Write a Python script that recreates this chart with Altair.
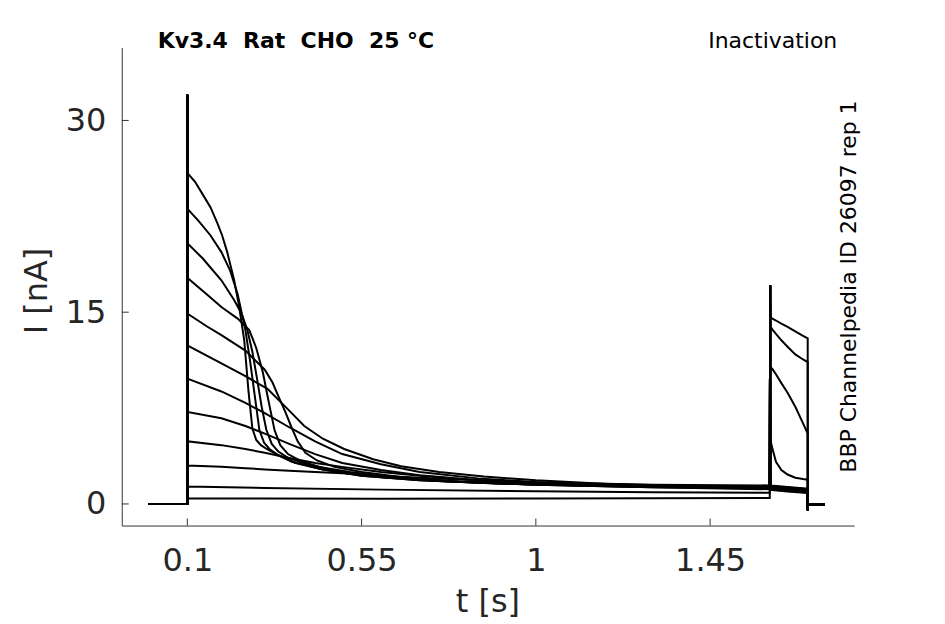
import altair as alt
import pandas as pd

FONT = "DejaVu Sans"

# ---------------- axis ticks ----------------
X_TICKS = [0.1, 0.55, 1.0, 1.45]
Y_TICKS = [0, 15, 30]
X_DOMAIN = [-0.0693, 1.822]
Y_DOMAIN = [-1.69, 35.7]

# ---------------- texts ----------------
TITLE_LEFT = "Kv3.4\u00a0\u00a0Rat\u00a0\u00a0CHO\u00a0\u00a025\u00a0°C"
TITLE_RIGHT = "Inactivation"
SIDE_TEXT = "BBP Channelpedia ID 26097 rep 1"
X_TITLE = "t [s]"
Y_TITLE = "I [nA]"

# ---------------- shared segments ----------------
BASE_T = [0.0, 0.1]
BASE_I = [0.0, 0.0]
SPIKE1_T = 0.1
SPIKE1_I = 32.0
SPIKE2_T = 1.605
SPIKE2_I = 17.1
TAIL_T = [1.702, 1.703, 1.746]
TAIL_I = [-0.5, -0.05, -0.05]

TEST_T_FULL = [1.6055, 1.612, 1.62, 1.634, 1.65, 1.67, 1.69, 1.702]
TEST_T_SHORT = [1.6055, 1.65, 1.702]

# ---------------- prepulse traces ----------------
PRE_T_1 = [0.1, 0.12, 0.144, 0.16, 0.177, 0.19, 0.203, 0.221, 0.234, 0.247, 0.258, 0.268, 0.278, 0.29, 0.305, 0.33, 0.37, 0.45, 0.55, 0.7, 0.9, 1.2, 1.604]
PRE_I_1 = [25.9, 25.2, 24.0, 23.2, 22.0, 21.0, 19.7, 17.5, 15.4, 12.8, 8.8, 5.9, 5.0, 4.6, 4.3, 3.9, 3.3, 2.7, 2.2, 1.85, 1.6, 1.4, 1.3]

PRE_T_2 = [0.1, 0.13, 0.16, 0.188, 0.21, 0.23, 0.25, 0.262, 0.274, 0.286, 0.298, 0.312, 0.335, 0.38, 0.45, 0.55, 0.7, 0.9, 1.2, 1.604]
PRE_I_2 = [23.1, 22.1, 21.0, 19.7, 18.3, 16.4, 13.6, 11.2, 8.5, 5.8, 4.8, 4.3, 3.8, 3.2, 2.7, 2.2, 1.85, 1.6, 1.4, 1.25]

PRE_T_3 = [0.1, 0.14, 0.188, 0.22, 0.24, 0.255, 0.268, 0.28, 0.292, 0.304, 0.318, 0.335, 0.36, 0.41, 0.5, 0.6, 0.75, 0.95, 1.25, 1.604]
PRE_I_3 = [20.4, 19.2, 17.5, 16.0, 14.9, 13.6, 11.9, 9.8, 7.6, 5.8, 4.7, 4.1, 3.6, 3.1, 2.5, 2.1, 1.8, 1.55, 1.35, 1.25]

PRE_T_4 = [0.1, 0.15, 0.188, 0.23, 0.26, 0.278, 0.295, 0.31, 0.325, 0.34, 0.36, 0.39, 0.44, 0.52, 0.62, 0.78, 1.0, 1.3, 1.604]
PRE_I_4 = [17.7, 16.4, 15.4, 14.5, 13.6, 12.2, 10.3, 8.0, 5.8, 4.6, 3.9, 3.4, 2.9, 2.5, 2.1, 1.75, 1.5, 1.3, 1.2]

PRE_T_5 = [0.1, 0.15, 0.188, 0.25, 0.3, 0.32, 0.337, 0.353, 0.369, 0.385, 0.405, 0.435, 0.48, 0.55, 0.65, 0.8, 1.0, 1.3, 1.604]
PRE_I_5 = [14.9, 13.9, 13.2, 12.0, 10.5, 9.5, 8.3, 7.2, 6.0, 4.9, 4.0, 3.4, 2.9, 2.5, 2.1, 1.75, 1.5, 1.3, 1.15]

PRE_T_6 = [0.1, 0.188, 0.25, 0.307, 0.36, 0.402, 0.45, 0.505, 0.58, 0.652, 0.75, 0.866, 1.0, 1.2, 1.604]
PRE_I_6 = [12.4, 11.0, 10.0, 9.0, 7.4, 6.1, 5.1, 4.3, 3.5, 2.95, 2.5, 2.15, 1.85, 1.55, 1.3]

PRE_T_7 = [0.1, 0.188, 0.25, 0.3, 0.363, 0.43, 0.5, 0.6, 0.7, 0.85, 1.0, 1.3, 1.604]
PRE_I_7 = [9.8, 8.8, 7.9, 7.1, 6.0, 4.9, 3.9, 3.1, 2.5, 2.0, 1.7, 1.45, 1.25]

PRE_T_8 = [0.1, 0.188, 0.25, 0.3, 0.363, 0.43, 0.5, 0.6, 0.7, 0.85, 1.0, 1.3, 1.604]
PRE_I_8 = [7.2, 6.7, 6.1, 5.5, 4.7, 3.9, 3.2, 2.65, 2.25, 1.85, 1.6, 1.4, 1.2]

PRE_T_9 = [0.1, 0.188, 0.25, 0.3, 0.363, 0.43, 0.5, 0.6, 0.7, 0.85, 1.0, 1.3, 1.604]
PRE_I_9 = [4.9, 4.6, 4.3, 4.0, 3.6, 3.2, 2.9, 2.5, 2.2, 1.85, 1.65, 1.45, 1.35]

PRE_T_10 = [0.1, 0.188, 0.25, 0.3, 0.363, 0.43, 0.5, 0.6, 0.7, 0.85, 1.0, 1.3, 1.604]
PRE_I_10 = [3.0, 2.9, 2.8, 2.7, 2.6, 2.5, 2.4, 2.2, 2.05, 1.85, 1.7, 1.5, 1.45]

PRE_T_11 = [0.1, 0.3, 0.6, 1.0, 1.3, 1.604]
PRE_I_11 = [1.36, 1.25, 1.12, 1.0, 0.92, 0.88]

PRE_T_12 = [0.1, 0.3, 0.6, 1.0, 1.3, 1.604]
PRE_I_12 = [0.45, 0.42, 0.4, 0.42, 0.45, 0.47]

# ---------------- test-pulse responses ----------------
TEST_I_1 = [1.45, 1.32, 1.2]
TEST_I_2 = [1.4, 1.28, 1.15]
TEST_I_3 = [1.35, 1.22, 1.1]
TEST_I_4 = [1.3, 1.18, 1.05]
TEST_I_5 = [1.25, 1.12, 1.0]
TEST_I_6 = [1.2, 1.08, 0.95]
TEST_I_7 = [1.15, 1.02, 0.9]
TEST_I_8 = [1.1, 0.98, 0.85]
TEST_I_9 = [5.0, 4.2, 3.3, 2.65, 2.3, 2.05, 1.95, 1.9]
TEST_I_10 = [10.75, 10.5, 10.15, 9.45, 8.7, 7.6, 6.3, 5.5]
TEST_I_11 = [13.9, 13.6, 13.3, 12.8, 12.3, 11.7, 11.3, 11.1]
TEST_I_12 = [14.6, 14.48, 14.35, 14.1, 13.85, 13.5, 13.15, 12.95]

traces = [
    (PRE_T_1, PRE_I_1, TEST_T_SHORT, TEST_I_1),
    (PRE_T_2, PRE_I_2, TEST_T_SHORT, TEST_I_2),
    (PRE_T_3, PRE_I_3, TEST_T_SHORT, TEST_I_3),
    (PRE_T_4, PRE_I_4, TEST_T_SHORT, TEST_I_4),
    (PRE_T_5, PRE_I_5, TEST_T_SHORT, TEST_I_5),
    (PRE_T_6, PRE_I_6, TEST_T_SHORT, TEST_I_6),
    (PRE_T_7, PRE_I_7, TEST_T_SHORT, TEST_I_7),
    (PRE_T_8, PRE_I_8, TEST_T_SHORT, TEST_I_8),
    (PRE_T_9, PRE_I_9, TEST_T_FULL, TEST_I_9),
    (PRE_T_10, PRE_I_10, TEST_T_FULL, TEST_I_10),
    (PRE_T_11, PRE_I_11, TEST_T_FULL, TEST_I_11),
    (PRE_T_12, PRE_I_12, TEST_T_FULL, TEST_I_12),
]

rows = []
for k, (pt, pi, tt, ti) in enumerate(traces, start=1):
    pts = (list(zip(BASE_T, BASE_I)) + [(SPIKE1_T, SPIKE1_I)] + list(zip(pt, pi))
           + [(SPIKE2_T, SPIKE2_I)] + list(zip(tt, ti)) + list(zip(TAIL_T, TAIL_I)))
    for seq, (t, i) in enumerate(pts):
        rows.append({"trace": k, "seq": seq, "t": t, "I": i})
df = pd.DataFrame(rows)

W, H = 734, 479
AX_COLOR = "#333333"
LBL_COLOR = "#262626"

xs = alt.Scale(domain=X_DOMAIN, nice=False, zero=False)
ys = alt.Scale(domain=Y_DOMAIN, nice=False, zero=False)

lines = alt.Chart(df).mark_line(color="black", strokeWidth=2.0, clip=True).encode(
    x=alt.X("t:Q", scale=xs, axis=alt.Axis(
        values=X_TICKS, format=".3~g", title=None, ticks=False, tickSize=0, grid=False,
        labelFont=FONT, labelFontSize=32, labelColor=LBL_COLOR, labelPadding=20,
        domainColor=AX_COLOR, domainWidth=1)),
    y=alt.Y("I:Q", scale=ys, axis=alt.Axis(
        values=Y_TICKS, format=".3~g", title=None, ticks=False, tickSize=0, grid=False,
        labelFont=FONT, labelFontSize=32, labelColor=LBL_COLOR, labelPadding=16,
        domainColor=AX_COLOR, domainWidth=1)),
    detail="trace:N",
    order="seq:Q",
)

xtick_df = pd.DataFrame({"t": X_TICKS})
ytick_df = pd.DataFrame({"I": Y_TICKS})
xticks = alt.Chart(xtick_df).mark_rule(color=AX_COLOR, strokeWidth=1).encode(
    x=alt.X("t:Q", scale=xs), y=alt.value(H), y2=alt.value(H - 7))
yticks = alt.Chart(ytick_df).mark_rule(color=AX_COLOR, strokeWidth=1).encode(
    y=alt.Y("I:Q", scale=ys), x=alt.value(0), x2=alt.value(7))


def label(txt, x, y, size, **kw):
    return alt.Chart(pd.DataFrame({"label": [txt]})).mark_text(
        font=FONT, fontSize=size, color=kw.pop("color", LBL_COLOR), **kw
    ).encode(text="label:N", x=alt.value(x), y=alt.value(y))


t_left = label(TITLE_LEFT, 36, 0, 22, fontWeight="bold", align="left", baseline="alphabetic", color="black")
t_right = label(TITLE_RIGHT, 717, 0, 22, align="right", baseline="alphabetic", color="black")
t_side = label(SIDE_TEXT, 736, H / 2, 22, angle=270, align="center", baseline="alphabetic", color="black")
t_x = label(X_TITLE, W / 2, 566, 32, align="center", baseline="alphabetic")
t_y = label(Y_TITLE, -85, 244, 32, angle=270, align="center", baseline="middle")

chart = alt.layer(lines, xticks, yticks, t_left, t_right, t_side, t_x, t_y).properties(
    width=W, height=H,
    padding={"left": 114, "top": 39, "right": 83, "bottom": 94},
    autosize=alt.AutoSizeParams(type="none"),
).configure_view(stroke=None)

chart.save("out.html", embed_options={"renderer": "svg", "actions": False})
